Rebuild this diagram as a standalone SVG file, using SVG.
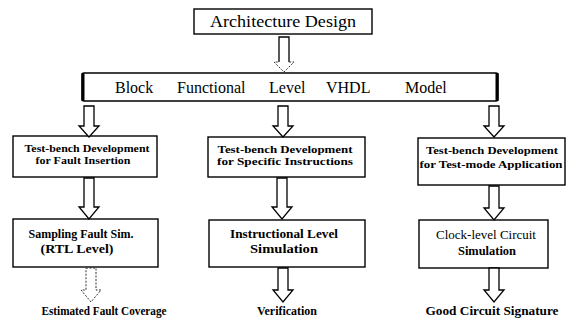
<svg xmlns="http://www.w3.org/2000/svg" width="566" height="321" viewBox="0 0 566 321" font-family="Liberation Serif, DejaVu Serif, serif">
<style>
  .box { fill: #fff; stroke: #000; stroke-width: 1.4; }
  .thick { stroke: #000; stroke-width: 3; fill: none; }
  .arr { fill: #fff; stroke: #000; stroke-width: 1.3; stroke-linejoin: miter; }
  .arr-dash { fill: #fff; stroke: #333; stroke-width: 1; stroke-dasharray: 2 1.5; }
  .big { font-size: 16px; fill: #000; }
  .sm { font-size: 11px; font-weight: bold; text-anchor: middle; fill: #000; }
  .md { font-size: 12.5px; font-weight: bold; text-anchor: middle; fill: #000; }
  .reg { font-size: 13px; text-anchor: middle; fill: #000; }
  .lab { font-size: 12px; font-weight: bold; text-anchor: middle; fill: #000; }
</style>
<rect width="566" height="321" fill="#fff"/>

<g id="architecture-design">
  <rect class="box" x="194" y="9" width="178" height="25"/>
  <text class="big" x="283" y="27" text-anchor="middle" textLength="146" lengthAdjust="spacingAndGlyphs">Architecture Design</text>
</g>

<g id="vhdl-model">
  <rect class="box" x="82" y="73" width="416" height="28" rx="2"/>
  <line class="thick" x1="83" y1="73" x2="83" y2="101"/>
  <line class="thick" x1="497" y1="73" x2="497" y2="101"/>
  <text class="big" x="115" y="93">Block</text>
  <text class="big" x="177" y="93">Functional</text>
  <text class="big" x="269" y="93">Level</text>
  <text class="big" x="326" y="93">VHDL</text>
  <text class="big" x="405" y="93">Model</text>
</g>

<g id="tb-fault-insertion">
  <rect class="box" x="13" y="136" width="144" height="41"/>
  <text class="sm" x="87" y="152" textLength="125" lengthAdjust="spacingAndGlyphs">Test-bench Development</text>
  <text class="sm" x="83" y="164" textLength="95" lengthAdjust="spacingAndGlyphs">for Fault Insertion</text>
</g>

<g id="tb-specific-instructions">
  <rect class="box" x="208" y="137" width="157" height="40"/>
  <text class="sm" x="285" y="153" textLength="135" lengthAdjust="spacingAndGlyphs">Test-bench Development</text>
  <text class="sm" x="285" y="165" textLength="136" lengthAdjust="spacingAndGlyphs">for Specific Instructions</text>
</g>

<g id="tb-test-mode">
  <rect class="box" x="418" y="138" width="147" height="47"/>
  <text class="sm" x="492" y="154" textLength="132" lengthAdjust="spacingAndGlyphs">Test-bench Development</text>
  <text class="sm" x="491" y="168" textLength="143" lengthAdjust="spacingAndGlyphs">for Test-mode Application</text>
</g>

<g id="sampling-fault-sim">
  <rect class="box" x="13" y="219" width="145" height="48"/>
  <text class="md" x="81" y="238" textLength="105" lengthAdjust="spacingAndGlyphs">Sampling Fault Sim.</text>
  <text class="md" x="77" y="253" textLength="73" lengthAdjust="spacingAndGlyphs">(RTL Level)</text>
</g>

<g id="instructional-sim">
  <rect class="box" x="209" y="220" width="156" height="47"/>
  <text class="md" x="284" y="238" textLength="108" lengthAdjust="spacingAndGlyphs">Instructional Level</text>
  <text class="md" x="284" y="253" textLength="68" lengthAdjust="spacingAndGlyphs">Simulation</text>
</g>

<g id="clock-level-sim">
  <rect class="box" x="419" y="220" width="129" height="48"/>
  <text class="reg" x="486" y="239" textLength="100" lengthAdjust="spacingAndGlyphs">Clock-level Circuit</text>
  <text class="md" x="487" y="255" textLength="58" lengthAdjust="spacingAndGlyphs">Simulation</text>
</g>

<g id="outputs">
  <text class="lab" x="104" y="315" textLength="125" lengthAdjust="spacingAndGlyphs">Estimated Fault Coverage</text>
  <text class="lab" x="287" y="315" textLength="60" lengthAdjust="spacingAndGlyphs">Verification</text>
  <text class="lab" x="492" y="315" textLength="133" lengthAdjust="spacingAndGlyphs">Good Circuit Signature</text>
</g>

<g id="connectors">
  <path class="arr" d="M279,62 V37 H289 V62"/>
  <path class="arr-dash" d="M289,62 H294 L284,72 L274,62 H279"/>

  <path class="arr" d="M84,106 H94 V126 H99 L89,137 L79,126 H84 Z"/>
  <path class="arr" d="M278,106 H288 V126 H293 L283,137 L273,126 H278 Z"/>
  <path class="arr" d="M489,106 H499 V126 H504 L494,137 L484,126 H489 Z"/>

  <path class="arr" d="M84,178 H94 V207 H99 L89,219 L79,207 H84 Z"/>
  <path class="arr" d="M277,178 H287 V207 H292 L282,219 L272,207 H277 Z"/>
  <path class="arr" d="M489,186 H499 V208 H504 L494,220 L484,208 H489 Z"/>

  <path class="arr-dash" d="M86,268 H96 V290 H101 L91,302 L81,290 H86 Z"/>
  <path class="arr" d="M278,268 H288 V290 H293 L283,302 L273,290 H278 Z"/>
  <path class="arr" d="M489,268 H499 V290 H504 L494,302 L484,290 H489 Z"/>
</g>
</svg>
